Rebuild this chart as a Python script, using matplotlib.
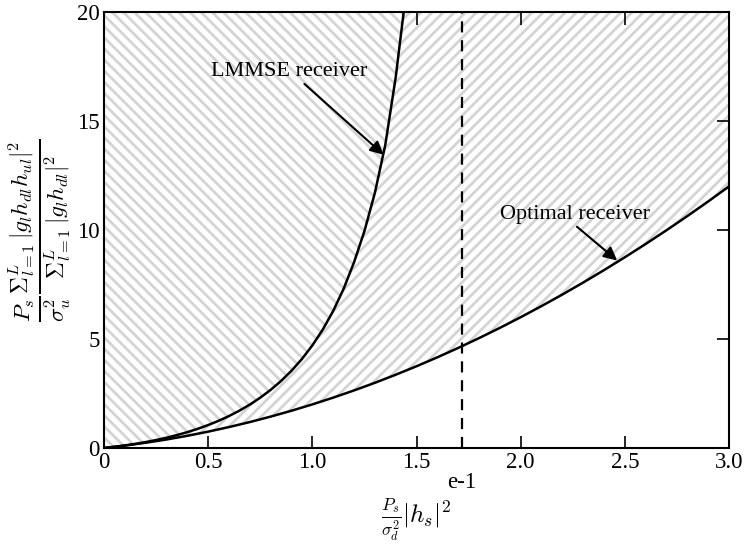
import numpy as np
import matplotlib
matplotlib.use("Agg")
import matplotlib.pyplot as plt
from matplotlib import transforms

plt.rcParams['font.family'] = 'serif'
plt.rcParams['font.serif'] = ['Liberation Serif', 'DejaVu Serif']
plt.rcParams['mathtext.fontset'] = 'cm'
plt.rcParams['hatch.color'] = '#d4d4d4'
plt.rcParams['hatch.linewidth'] = 2.0

# Optimal receiver boundary
x_opt = [0.0, 0.1, 0.2, 0.3, 0.4, 0.5, 0.6, 0.7, 0.8, 0.9, 1.0, 1.1, 1.2, 1.3, 1.4, 1.5,
         1.6, 1.7, 1.8, 1.9, 2.0, 2.1, 2.2, 2.3, 2.4, 2.5, 2.6, 2.7, 2.8, 2.9, 3.0]
y_opt = [0.0, 0.11, 0.24, 0.39, 0.56, 0.75, 0.96, 1.19, 1.44, 1.71, 2.0, 2.31, 2.64, 2.99, 3.36, 3.75,
         4.16, 4.59, 5.04, 5.51, 6.0, 6.51, 7.04, 7.59, 8.16, 8.75, 9.36, 9.99, 10.64, 11.31, 12.0]

# LMMSE receiver boundary
x_lmmse = [0.0, 0.05, 0.1, 0.15, 0.2, 0.25, 0.3, 0.35, 0.4, 0.45, 0.5, 0.55, 0.6, 0.65, 0.7,
           0.75, 0.8, 0.85, 0.9, 0.95, 1.0, 1.05, 1.1, 1.15, 1.2, 1.25, 1.3, 1.35, 1.4, 1.45]
y_lmmse = [0.0, 0.054, 0.117, 0.189, 0.271, 0.365, 0.471, 0.592, 0.727, 0.88, 1.053, 1.247, 1.466,
           1.713, 1.992, 2.308, 2.667, 3.076, 3.544, 4.083, 4.706, 5.432, 6.286, 7.299, 8.516,
           9.95, 11.7, 13.9, 17.0, 20.9]

x_ticks = [0, 0.5, 1.0, 1.5, 2.0, 2.5, 3.0]
x_ticklabels = ['0', '0.5', '1.0', '1.5', '2.0', '2.5', '3.0']
y_ticks = [0, 5, 10, 15, 20]
x_threshold = np.e - 1

fig = plt.figure(figsize=(7.45, 5.45), dpi=100)
ax = fig.add_axes([0.1396, 0.178, 0.839, 0.800])

# hatched regions
ax.fill_between(x_opt, y_opt, 20, facecolor='white', hatch='///', linewidth=0, zorder=1)
ax.fill_betweenx(y_lmmse, 0, x_lmmse, facecolor='white', hatch='\\\\\\', linewidth=0, zorder=2)

ax.plot(x_opt, y_opt, color='black', lw=1.8, zorder=4)
ax.plot(x_lmmse, y_lmmse, color='black', lw=1.8, zorder=4)
ax.axvline(x_threshold, color='black', lw=1.6, ls=(0, (5, 3.5)), zorder=4)

ax.set_xlim(0, 3.0)
ax.set_ylim(0, 20)
ax.set_xticks(x_ticks)
ax.set_xticklabels(x_ticklabels)
ax.set_yticks(y_ticks)
ax.tick_params(direction='in', length=9, width=1.2, top=True, right=True, labelsize=16.5, pad=3)
for s in ax.spines.values():
    s.set_linewidth(1.5)
    s.set_zorder(5)

trans = transforms.blended_transform_factory(ax.transData, ax.transAxes)
ax.text(x_threshold, -0.055, 'e-1', transform=trans, ha='center', va='top', fontsize=16.5)

ax.set_xlabel(r'$\frac{P_s}{\sigma_d^2}|h_s|^2$', fontsize=18)
ax.xaxis.set_label_coords(0.5, -0.112)
ax.set_ylabel(r'$\frac{P_s}{\sigma_u^2}\frac{\Sigma_{l=1}^{L}\,|g_l h_{dl} h_{ul}|^2}{\Sigma_{l=1}^{L}\,|g_l h_{dl}|^2}$',
              fontsize=24)
ax.yaxis.set_label_coords(-0.05, 0.5)

ax.text(0.887, 17.26, 'LMMSE receiver', ha='center', va='center', fontsize=16, zorder=6)
ax.annotate('', xy=(1.342, 13.45), xytext=(0.962, 16.7), zorder=6,
            arrowprops=dict(arrowstyle='-|>', color='black', lw=1.5, mutation_scale=20,
                            shrinkA=0, shrinkB=0))
ax.text(2.26, 10.69, 'Optimal receiver', ha='center', va='center', fontsize=16, zorder=6)
ax.annotate('', xy=(2.463, 8.6), xytext=(2.27, 10.15), zorder=6,
            arrowprops=dict(arrowstyle='-|>', color='black', lw=1.5, mutation_scale=20,
                            shrinkA=0, shrinkB=0))

fig.savefig('out.png', dpi=100)
